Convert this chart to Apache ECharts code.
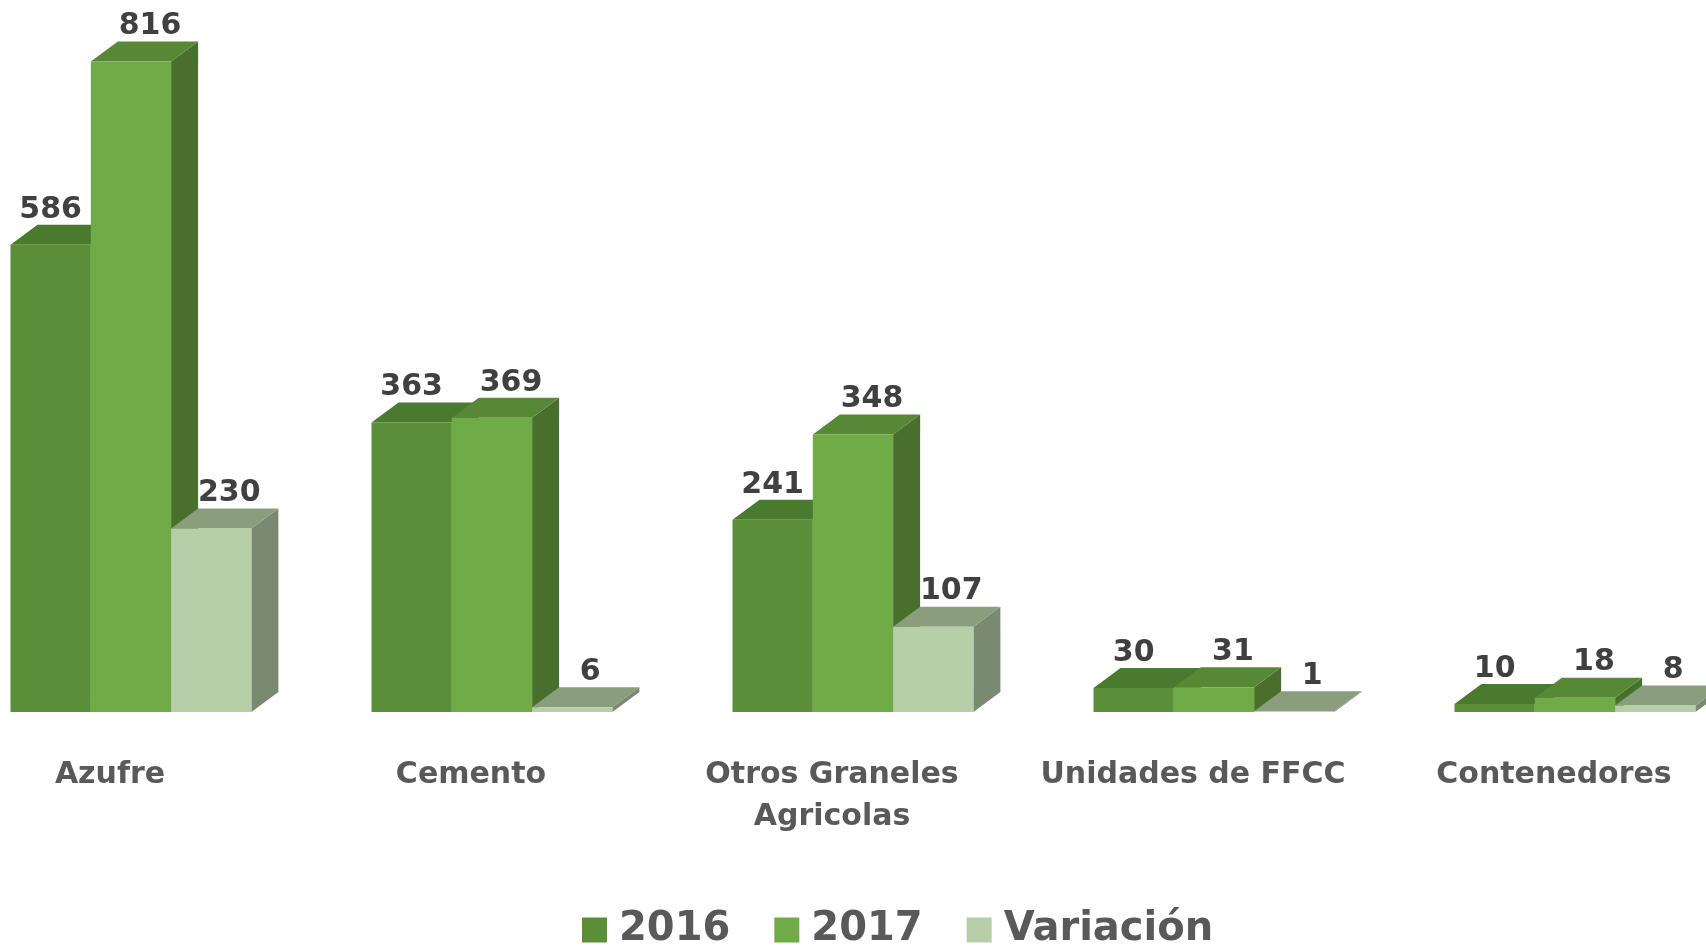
<!DOCTYPE html>
<html>
<head>
<meta charset="utf-8">
<script src="https://cdn.jsdelivr.net/npm/echarts@6/dist/echarts.min.js"></script>
<style>
  html, body { margin: 0; padding: 0; background: #fff; }
  #chart { width: 1706px; height: 946px; }
</style>
</head>
<body>
<div id="chart"></div>
<script>
const categories = ['Azufre', 'Cemento', 'Otros Graneles\nAgricolas', 'Unidades de FFCC', 'Contenedores'];
const values2016 = [586, 363, 241, 30, 10];
const values2017 = [816, 369, 348, 31, 18];
const variacion = [230, 6, 107, 1, 8];

// front / top / side shades for the fake 3d boxes
const shades = [
  { front: '#5b8e39', top: '#4a7a2e', side: '#456c29' },
  { front: '#70ab47', top: '#578835', side: '#486f2b' },
  { front: '#b6cfa8', top: '#8a9e7e', side: '#798a70' }
];
const barW = 80.3;
const depthX = 27;
const depthY = 20;
const labelShift = [0, 19, 18];
const fontName = '"DejaVu Sans", sans-serif';

const chart = echarts.init(document.getElementById('chart'));

function makeRender(j) {
  return function (params, api) {
    const idx = api.value(0);
    const val = api.value(1);
    const base = api.coord([idx, 0]);
    const top = api.coord([idx, val]);
    const x0 = base[0] - 99.5 + j * barW;
    const x1 = x0 + barW;
    const yb = base[1];
    const yt = top[1];
    const c = shades[j];
    return {
      type: 'group',
      children: [
        {
          type: 'polygon',
          shape: { points: [[x1, yb], [x1 + depthX, yb - depthY], [x1 + depthX, yt - depthY], [x1, yt]] },
          style: { fill: c.side }
        },
        {
          type: 'polygon',
          shape: { points: [[x0, yt], [x0 + depthX, yt - depthY], [x1 + depthX, yt - depthY], [x1, yt]] },
          style: { fill: c.top }
        },
        {
          type: 'rect',
          shape: { x: x0, y: yt, width: barW, height: yb - yt },
          style: { fill: c.front }
        },
        {
          type: 'text',
          x: (x0 + x1) / 2 + labelShift[j],
          y: yt - 35,
          style: {
            text: String(val),
            fill: '#404040',
            font: 'bold 30px ' + fontName,
            align: 'center',
            verticalAlign: 'middle'
          }
        }
      ]
    };
  };
}

function toData(arr) {
  return arr.map((v, i) => [i, v]);
}

const option = {
  animation: false,
  grid: {
    left: -70.5,
    width: 1805,
    top: 0,
    bottom: 234,
    containLabel: false,
    outerBoundsMode: 'none'
  },
  legend: {
    left: 582,
    top: 908,
    padding: 0,
    icon: 'rect',
    itemWidth: 25,
    itemHeight: 25,
    itemGap: 44,
    data: ['2016', '2017', 'Variación'],
    textStyle: {
      fontFamily: 'DejaVu Sans',
      fontSize: 40,
      fontWeight: 'bold',
      color: '#595959',
      lineHeight: 44,
      padding: [0, 0, 0, 7]
    }
  },
  xAxis: {
    type: 'category',
    data: categories,
    axisLine: { show: false },
    axisTick: { show: false },
    axisLabel: {
      interval: 0,
      margin: 42,
      fontFamily: 'DejaVu Sans',
      fontSize: 30,
      fontWeight: 'bold',
      color: '#595959',
      lineHeight: 42
    }
  },
  yAxis: {
    type: 'value',
    min: 0,
    max: 893,
    show: false,
    splitLine: { show: false }
  },
  series: [
    { name: '2016', type: 'custom', renderItem: makeRender(0), itemStyle: { color: shades[0].front }, data: toData(values2016) },
    { name: '2017', type: 'custom', renderItem: makeRender(1), itemStyle: { color: shades[1].front }, data: toData(values2017) },
    { name: 'Variación', type: 'custom', renderItem: makeRender(2), itemStyle: { color: shades[2].front }, data: toData(variacion) }
  ]
};

chart.setOption(option);
</script>
</body>
</html>
